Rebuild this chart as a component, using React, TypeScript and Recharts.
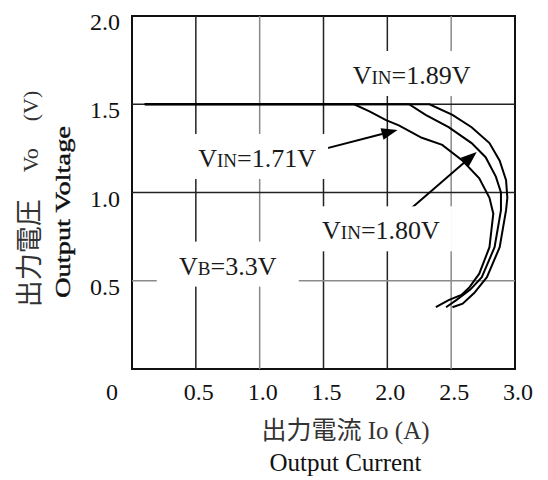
import { LineChart, Line, XAxis, YAxis, ReferenceLine, ReferenceDot, ReferenceArea, Label } from 'recharts';

const SERIF = '"Liberation Serif", "Times New Roman", serif';
const CJK = '"Liberation Serif", "Noto Sans CJK JP", serif';

// axis ticks (A, V)
const xTicks = [0, 0.5, 1.0, 1.5, 2.0, 2.5, 3.0];
const yTicks = [0.5, 1.0, 1.5, 2.0];

// grid lines: some dark, some grey in the original
const darkGridX = [0.5, 1.5, 2.0];
const lightGridX = [1.0, 2.5];
const darkGridY = [1.5, 1.0];
const lightGridY = [0.5];

// Io (A) vs Vo (V)
const vin171 = [
  { i: 0.1, v: 1.5 }, { i: 1.0, v: 1.5 }, { i: 1.74, v: 1.5 }, { i: 1.86, v: 1.46 },
  { i: 1.99, v: 1.41 }, { i: 2.09, v: 1.38 }, { i: 2.27, v: 1.31 }, { i: 2.43, v: 1.27 },
  { i: 2.59, v: 1.18 }, { i: 2.72, v: 1.08 }, { i: 2.8, v: 0.97 }, { i: 2.83, v: 0.88 },
  { i: 2.8, v: 0.69 }, { i: 2.72, v: 0.54 }, { i: 2.64, v: 0.46 }, { i: 2.58, v: 0.42 },
  { i: 2.48, v: 0.39 }, { i: 2.38, v: 0.35 },
];
const vin180 = [
  { i: 0.1, v: 1.5 }, { i: 1.0, v: 1.5 }, { i: 2.17, v: 1.5 }, { i: 2.3, v: 1.44 },
  { i: 2.48, v: 1.37 }, { i: 2.66, v: 1.28 }, { i: 2.77, v: 1.2 }, { i: 2.85, v: 1.09 },
  { i: 2.89, v: 1.0 }, { i: 2.89, v: 0.9 }, { i: 2.84, v: 0.69 }, { i: 2.74, v: 0.52 },
  { i: 2.65, v: 0.45 }, { i: 2.54, v: 0.39 }, { i: 2.46, v: 0.35 },
];
const vin189 = [
  { i: 0.1, v: 1.5 }, { i: 1.0, v: 1.5 }, { i: 2.33, v: 1.5 }, { i: 2.51, v: 1.44 },
  { i: 2.66, v: 1.37 }, { i: 2.8, v: 1.28 }, { i: 2.88, v: 1.18 }, { i: 2.93, v: 1.07 },
  { i: 2.94, v: 0.97 }, { i: 2.93, v: 0.9 }, { i: 2.88, v: 0.69 }, { i: 2.78, v: 0.52 },
  { i: 2.68, v: 0.43 }, { i: 2.59, v: 0.37 }, { i: 2.51, v: 0.35 },
];

const notes = [
  { main: 'V', sub: 'IN', rest: '=1.89V', i: 2.19, v: 1.66 },
  { main: 'V', sub: 'IN', rest: '=1.71V', i: 0.98, v: 1.19 },
  { main: 'V', sub: 'IN', rest: '=1.80V', i: 1.95, v: 0.78 },
  { main: 'V', sub: 'B', rest: '=3.3V', i: 0.75, v: 0.58 },
];

const arrows = [
  [{ x: 1.47, y: 1.24 }, { x: 2.08, y: 1.354 }],
  [{ x: 2.17, y: 0.9 }, { x: 2.7, y: 1.23 }],
];

const XTick = (props: any) => {
  const { x, y, payload } = props;
  const val = payload.value as number;
  return (
    <text x={x + (val === 0 ? -20 : 3)} y={y + 31} textAnchor="middle" fontSize={24} fontFamily={SERIF} fill="#111">
      {val === 0 ? '0' : val.toFixed(1)}
    </text>
  );
};

const YTick = (props: any) => {
  const { x, y, payload } = props;
  return (
    <text x={x - 12} y={y + 14} textAnchor="end" fontSize={24} fontFamily={SERIF} fill="#111">
      {(payload.value as number).toFixed(1)}
    </text>
  );
};

const noteShape = (n: typeof notes[number]) => (p: any) => (
  <g>
    <rect x={p.cx - 71} y={p.cy - 25} width={142} height={45} fill="#fff" />
    <text x={p.cx} y={p.cy + 8} textAnchor="middle" fontFamily={SERIF} fill="#1a1a1a">
      <tspan fontSize={26}>{n.main}</tspan>
      <tspan fontSize={19}>{n.sub}</tspan>
      <tspan fontSize={26}>{n.rest}</tspan>
    </text>
  </g>
);

const Arrow = (p: any) => {
  const { x1, y1, x2, y2 } = p;
  const a = Math.atan2(y2 - y1, x2 - x1);
  const bx = x2 - 16 * Math.cos(a);
  const by = y2 - 16 * Math.sin(a);
  const px = -Math.sin(a) * 6;
  const py = Math.cos(a) * 6;
  return (
    <g>
      <line x1={x1} y1={y1} x2={bx} y2={by} stroke="#000" strokeWidth={2} />
      <polygon points={`${x2},${y2} ${bx + px},${by + py} ${bx - px},${by - py}`} fill="#000" />
    </g>
  );
};

const XTitle = (props: any) => {
  const { x, y, width } = props.viewBox;
  const cx = x + width / 2 + 22;
  return (
    <g>
      <text x={cx} y={y + 70} textAnchor="middle" fontFamily={CJK} fill="#333">
        <tspan fontSize={25}>出力電流 </tspan>
        <tspan fontSize={25}>Io (A)</tspan>
      </text>
      <text x={cx} y={y + 102} textAnchor="middle" fontSize={25} fontFamily={SERIF} fill="#111">
        Output Current
      </text>
    </g>
  );
};

const YTitle = (props: any) => {
  const { y } = props.viewBox;
  return (
    <g>
      <text x={22} y={y + 183} transform={`rotate(-90 22 ${y + 183})`} textAnchor="middle" dominantBaseline="central" fontFamily={CJK} fill="#333">
        <tspan fontSize={27}>出力電圧　</tspan>
        <tspan fontSize={22}>Vo</tspan>
        <tspan fontSize={27}>　</tspan>
        <tspan fontSize={22}>(V)</tspan>
      </text>
      <text x={55} y={y + 196} transform={`rotate(-90 55 ${y + 196})`} textAnchor="middle" dominantBaseline="central" fontSize={21} fontFamily={SERIF} textLength={172} lengthAdjust="spacingAndGlyphs" fill="#111" stroke="#111" strokeWidth={0.4}>
        Output Voltage
      </text>
    </g>
  );
};

export default function App() {
  return (
    <LineChart width={540} height={470} margin={{ top: 8, right: 33, bottom: 0, left: 0 }}>
      <XAxis dataKey="i" type="number" domain={[0, 3]} ticks={xTicks} axisLine={false} tickLine={false}
        tickSize={0} tickMargin={0} height={109} tick={<XTick />} interval={0} allowDataOverflow>
        <Label content={<XTitle />} />
      </XAxis>
      <YAxis type="number" domain={[0, 2]} ticks={yTicks} axisLine={false} tickLine={false}
        tickSize={0} tickMargin={0} width={124} tick={<YTick />} interval={0} allowDataOverflow>
        <Label content={<YTitle />} />
      </YAxis>

      {darkGridX.map(g => <ReferenceLine key={'dx' + g} x={g} stroke="#222" strokeWidth={1.5} />)}
      {lightGridX.map(g => <ReferenceLine key={'lx' + g} x={g} stroke="#8a8a8a" strokeWidth={1.5} />)}
      {darkGridY.map(g => <ReferenceLine key={'dy' + g} y={g} stroke="#222" strokeWidth={1.5} />)}
      {lightGridY.map(g => <ReferenceLine key={'ly' + g} y={g} stroke="#8a8a8a" strokeWidth={1.5} />)}

      {notes.map(n => (
        <ReferenceDot key={n.rest} x={n.i} y={n.v} r={1} shape={noteShape(n)} />
      ))}

      <ReferenceArea x1={0} x2={3} y1={0} y2={2} fill="none" fillOpacity={0} stroke="#111" strokeWidth={2} />

      <Line data={vin171} dataKey="v" type="linear" stroke="#000" strokeWidth={2} dot={false} isAnimationActive={false} />
      <Line data={vin180} dataKey="v" type="linear" stroke="#000" strokeWidth={2} dot={false} isAnimationActive={false} />
      <Line data={vin189} dataKey="v" type="linear" stroke="#000" strokeWidth={2} dot={false} isAnimationActive={false} />

      {arrows.map((seg, k) => (
        <ReferenceLine key={'a' + k} segment={seg} shape={<Arrow />} />
      ))}
    </LineChart>
  );
}
